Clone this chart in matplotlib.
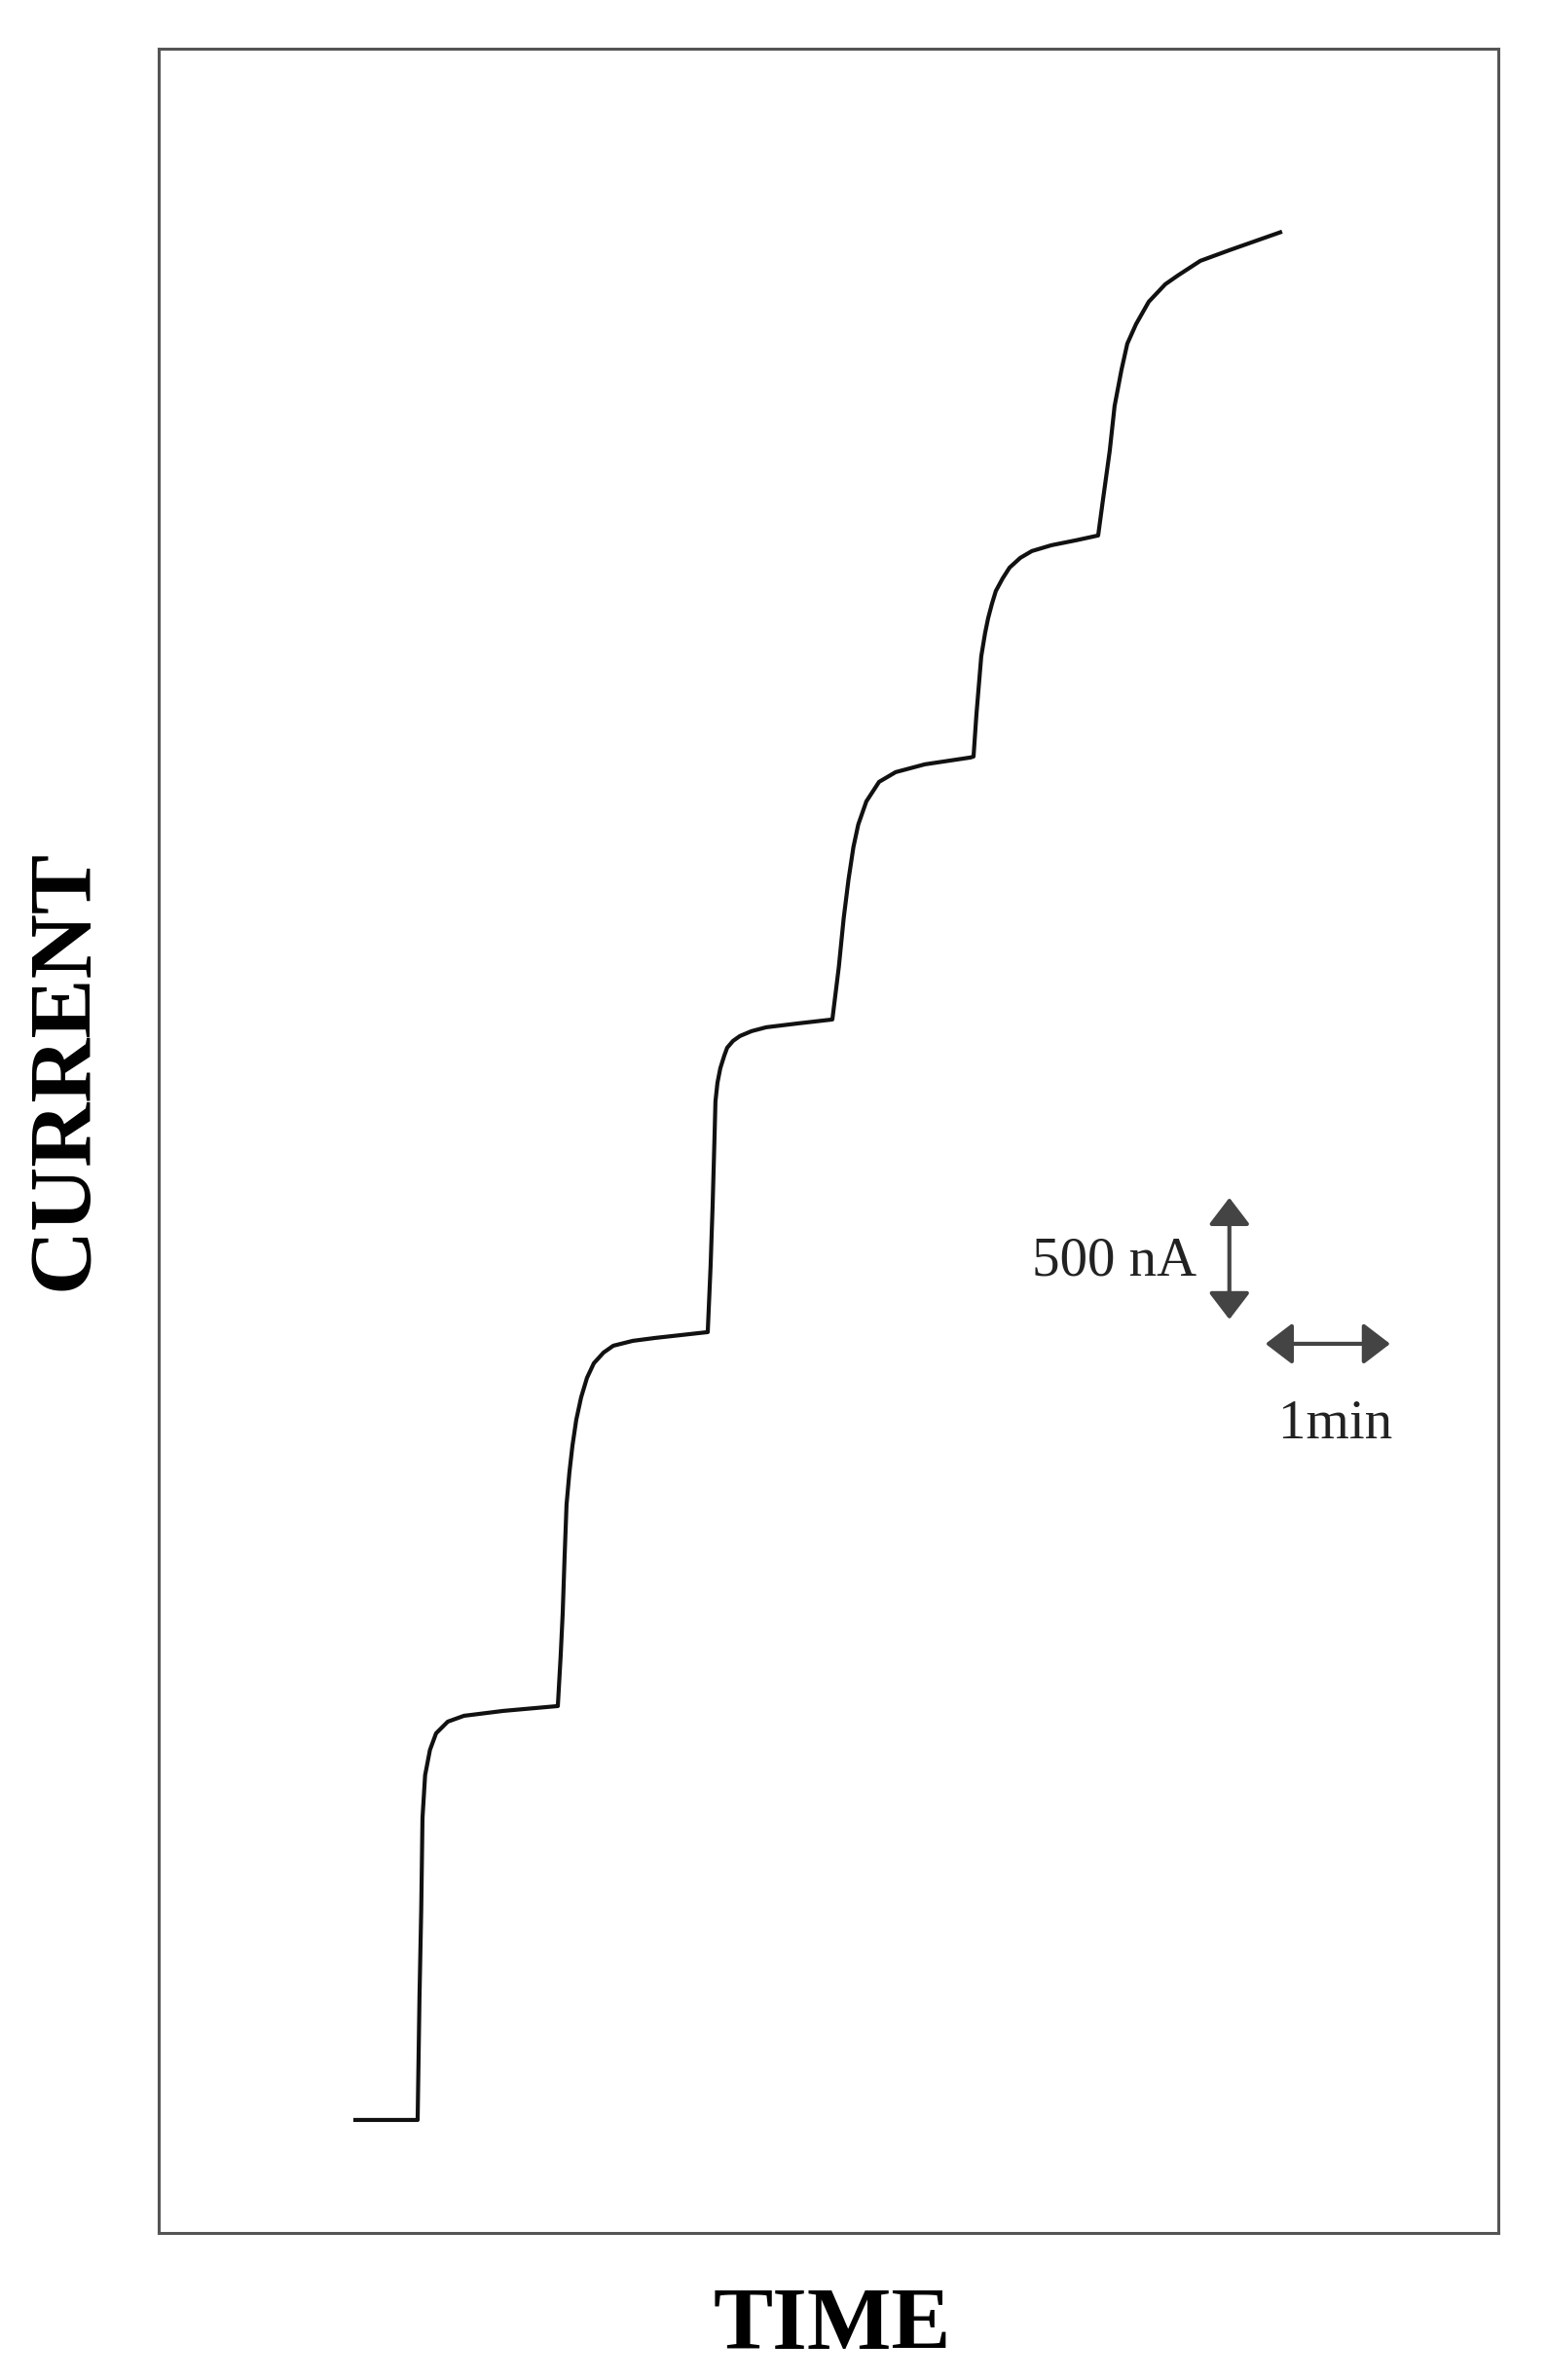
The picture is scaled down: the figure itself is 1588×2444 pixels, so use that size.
import numpy as np
import matplotlib.pyplot as plt

# Amperometric response: time in min, current in nA
time_min = [0.000, 0.516, 0.531, 0.545, 0.555, 0.576, 0.615, 0.664, 0.758, 0.888, 1.201, 1.641,
            1.664, 1.680, 1.695, 1.711, 1.734, 1.758, 1.789, 1.828, 1.875, 1.930, 2.008, 2.086, 2.242, 2.422, 2.844,
            2.867, 2.883, 2.898, 2.906, 2.922, 2.945, 2.977, 3.000, 3.047, 3.102, 3.195, 3.313, 3.570, 3.844,
            3.896, 3.935, 3.974, 4.013, 4.052, 4.117, 4.219, 4.352, 4.586, 4.951,
            4.977, 5.000, 5.039, 5.070, 5.094, 5.125, 5.156, 5.211, 5.266, 5.352, 5.445, 5.602, 5.797, 5.977,
            6.016, 6.070, 6.109, 6.164, 6.211, 6.281, 6.383, 6.516, 6.617, 6.797, 7.031, 7.453]
current_na = [0, 0, 508, 868, 1240, 1416, 1520, 1588, 1636, 1660, 1680, 1700,
              1908, 2080, 2308, 2528, 2660, 2768, 2876, 2968, 3048, 3108, 3152, 3180, 3200, 3212, 3236,
              3508, 3752, 4028, 4184, 4260, 4320, 4372, 4404, 4432, 4452, 4472, 4488, 4504, 4520,
              4736, 4936, 5096, 5228, 5321, 5416, 5496, 5536, 5568, 5596,
              5600, 5772, 6012, 6108, 6168, 6228, 6280, 6332, 6376, 6416, 6444, 6468, 6488, 6508,
              6656, 6856, 7040, 7188, 7296, 7376, 7468, 7540, 7576, 7636, 7680, 7756]

# scale bar sizes
bar_current = 500  # nA
bar_time = 1.0     # min

serif = ['Liberation Serif', 'DejaVu Serif']

fig = plt.figure(figsize=(15.88, 24.44), dpi=100)
ax = fig.add_axes([0.1026, 0.0618, 0.8665, 0.9178])

ax.plot(time_min, current_na, color='#111111', lw=3.0,
        solid_joinstyle='round', solid_capstyle='butt')

ax.set_xlim(-1.5625, 9.1875)
ax.set_ylim(-464, 8508)
ax.set_xticks([])
ax.set_yticks([])
for s in ax.spines.values():
    s.set_color('#555555')
    s.set_linewidth(2.2)

# scale bars
arrow_kw = dict(arrowstyle='<|-|>,head_length=0.85,head_width=0.65', lw=3,
                color='#444444', shrinkA=0, shrinkB=0, mutation_scale=20)
vx, vy = 7.03, 3288
ax.annotate('', xy=(vx, vy + bar_current), xytext=(vx, vy), arrowprops=arrow_kw)
hx, hy = 7.32, 3188
ax.annotate('', xy=(hx + bar_time, hy), xytext=(hx, hy), arrowprops=arrow_kw)

ax.text(6.77, 3524, '500 nA', ha='right', va='center', fontsize=41,
        family=serif, color='#222222')
ax.text(7.88, 2800, '1min', ha='center', va='baseline', fontsize=41,
        family=serif, color='#222222')

fig.text(0.0422, 0.5507, 'CURRENT', rotation=90, ha='center', va='center',
         fontsize=66, fontweight='bold', family=serif)
fig.text(0.5384, 0.0131, 'TIME', ha='center', va='baseline',
         fontsize=66, fontweight='bold', family=serif)

fig.savefig('out.png', dpi=100, facecolor='white')
